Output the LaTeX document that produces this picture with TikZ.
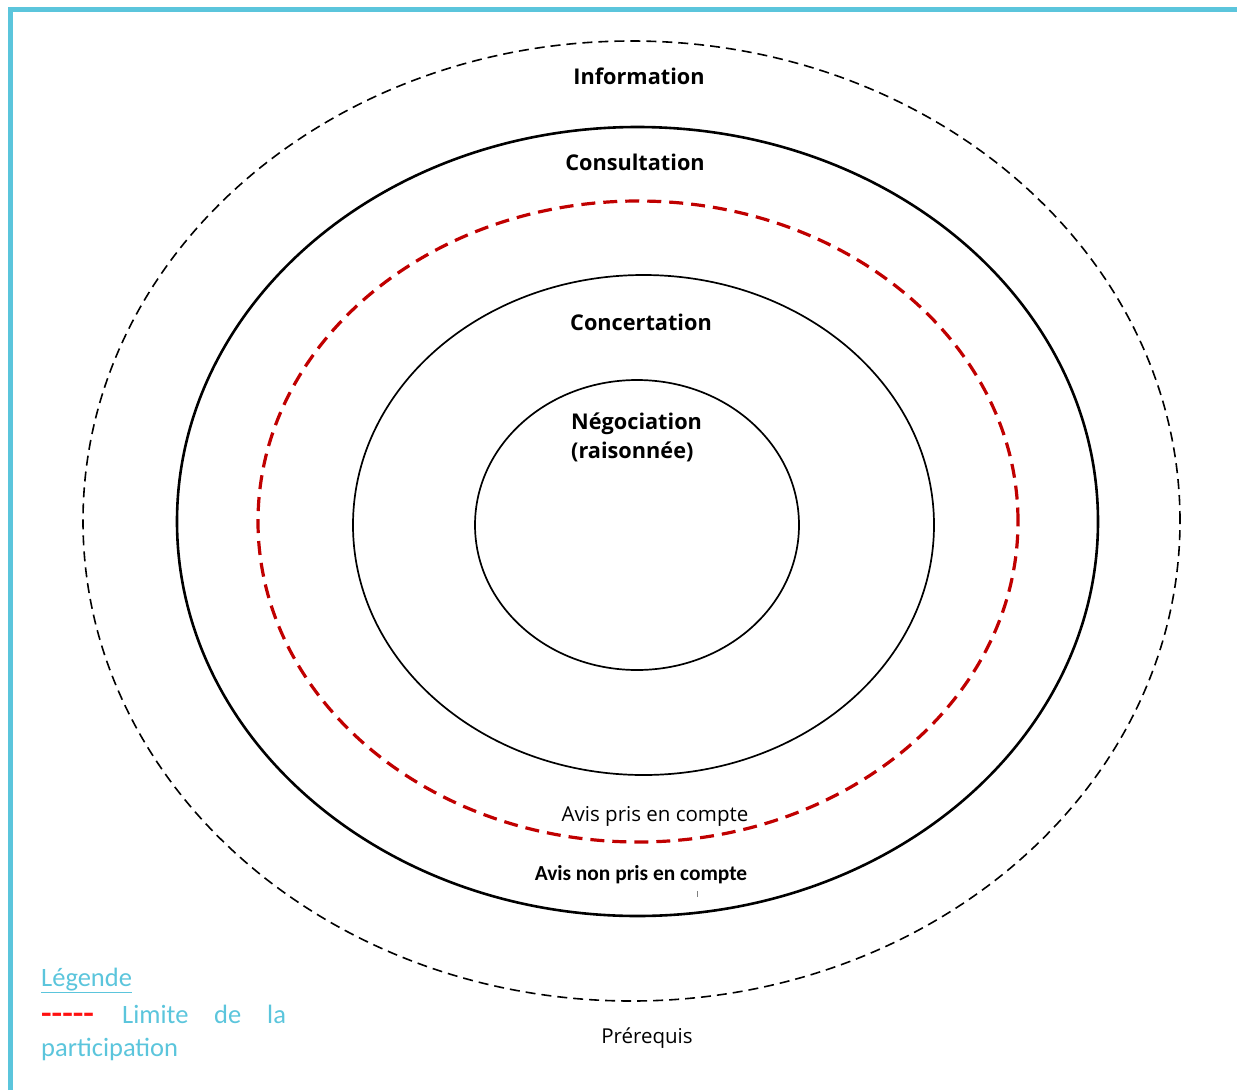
\documentclass[tikz,border=0pt]{standalone}
\usepackage{fontspec}
\setmainfont{Open Sans}
\newfontfamily\calib{Carlito}
\usetikzlibrary{shapes.geometric}
\definecolor{bordblue}{HTML}{5BC5DC}
\definecolor{limred}{HTML}{C00000}
\definecolor{legred}{HTML}{FF1010}
\tikzset{
  ring/.style={draw, ellipse, inner sep=0pt, outer sep=0pt},
  level/.style={font=\fontsize{21.7}{26}\selectfont\bfseries, inner sep=0pt},
  plain/.style={font=\fontsize{20.5}{24}\selectfont, inner sep=0pt},
  legend/.style={font=\calib\fontsize{26.5}{32}\selectfont, text=bordblue, inner sep=0pt, anchor=base west}
}
\begin{document}
\begin{tikzpicture}[x=1pt,y=-1pt]
\useasboundingbox (0,0) rectangle (1237,1090);
% border
\coordinate (bl) at (10.5,1090);
\coordinate (tl) at (10.5,9.5);
\coordinate (tr) at (1237,9.5);
\draw[bordblue, line width=5pt] (bl) -- (tl) -- (tr);
% rings
\node[ring, line width=1.6pt, dash pattern=on 10pt off 6pt, minimum width=1097pt, minimum height=960pt] (pre) at (631.5,521) {};
\node[ring, line width=2.6pt, minimum width=921pt, minimum height=789pt] (cons) at (637.5,521.5) {};
\node[ring, draw=limred, line width=3.2pt, dash pattern=on 14pt off 8pt, minimum width=760pt, minimum height=641pt] (lim) at (638,521.5) {};
\node[ring, line width=1.7pt, minimum width=581pt, minimum height=500pt] (conc) at (643.5,525) {};
\node[ring, line width=1.7pt, minimum width=324pt, minimum height=290pt] (neg) at (637,525) {};
% labels
\node[level] (tinfo) at (639,76) {Information};
\node[level] (tcons) at (635,162) {Consultation};
\node[level] (tconc) at (641,322) {Concertation};
\node[level, anchor=west] (tneg) at (571,423.5) {Négociation};
\node[level, anchor=west] (tneg2) at (571,451.5) {(raisonnée)};
\node[plain] (tpris) at (655,816) {Avis pris en compte};
\node[plain, font=\calib\fontsize{21.4}{25}\selectfont\bfseries] (tnon) at (641,875) {Avis non pris en compte};
\node[plain] (tpre) at (647,1038) {Prérequis};
\coordinate (m1) at (697,891);
\coordinate (m2) at (697,897);
\draw[gray, line width=0.6pt] (m1) -- (m2);
% legend
\node[legend] (leg) at (41,986) {\underline{Légende}};
\node[legend, text=legred] (legdash) at (41,1023) {\scalebox{1.3}[1.15]{\textbf{-----}}};
\node[legend] (leg1) at (122,1023) {Limite};
\node[legend] (leg2) at (214,1023) {de};
\node[legend] (leg3) at (267,1023) {la};
\node[legend] (leg4) at (41,1056) {participation};
\end{tikzpicture}
\end{document}
